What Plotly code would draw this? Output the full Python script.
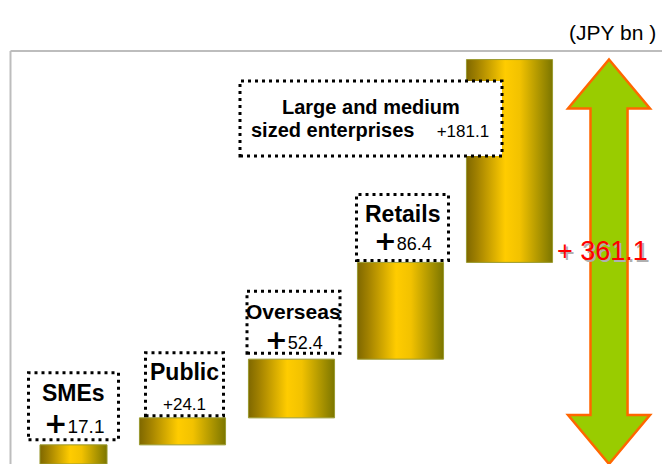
import plotly.graph_objects as go

# ---- data -------------------------------------------------------------
categories = ["SMEs", "Public", "Overseas", "Retails", "Large and medium"]
increments = [17.1, 24.1, 52.4, 86.4, 181.1]
value_labels = ["17.1", "24.1", "52.4", "86.4", "181.1"]
unit_label = "(JPY bn )"

total = round(sum(increments), 1)
total_label = f"+ {total}"
bases = []
run = 0.0
for v in increments:
    bases.append(run)
    run += v

# ---- geometry / style ---------------------------------------------------
W, H = 662, 464
X_PX0, X_STEP = 73.5, 109.0      # pixel of first bar centre, pixels per slot
Y_PX0, Y_SCALE = 464.0, 1.12     # pixel of value 0, pixels per JPY bn
bar_widths = [0.615, 0.79, 0.79, 0.79, 0.79]
ARROW_X = 4.913
ARROW_HEAD_HALF = 0.376
ARROW_SHAFT_HALF = 0.17
ARROW_HEAD_LEN = 43.75

FONT = "Liberation Sans, Arial, sans-serif"
GOLD = [[0.0, "#7F6800"], [0.12, "#A08000"], [0.45, "#FFCC00"],
        [0.62, "#F2C200"], [1.0, "#7C7600"]]

# label boxes: (x offset px, width px, gap above bar px, height px,
#               name offset px, value offset px, big plus, name size, value size)
box_style = [
    (0, 90, 5, 67, 47, 16, True, 23, 19),
    (2, 78, 2, 63, 44, 11, False, 23, 17),
    (2, 93, 6, 62, 42, 14, True, 21, 18),
    (2, 92, 2, 66, 46, 20, True, 23, 18),
]

fig = go.Figure()

# gradient-filled waterfall bars
for i, (v, b) in enumerate(zip(increments, bases)):
    w = bar_widths[i]
    x0, x1 = i - w / 2, i + w / 2
    fig.add_trace(go.Scatter(
        x=[x0, x1, x1, x0, x0],
        y=[b, b, b + v, b + v, b],
        mode="lines",
        fill="toself",
        fillgradient=dict(type="horizontal", colorscale=GOLD, start=x0, stop=x1),
        line=dict(color="#9A9A30", width=1),
        hoverinfo="skip",
        showlegend=False,
    ))

shapes = []
annotations = []

# frame lines
fy = 1 - 51 / H
fx = 10.5 / W
shapes.append(dict(type="line", xref="paper", yref="paper", x0=fx, x1=1, y0=fy, y1=fy,
                   line=dict(color="#BDBDBD", width=2), layer="below"))
shapes.append(dict(type="line", xref="paper", yref="paper", x0=fx, x1=fx, y0=0, y1=fy,
                   line=dict(color="#BDBDBD", width=2), layer="below"))

DOTS = dict(color="black", width=3, dash="3px,4px")


def plus_text(val, big, size):
    if big:
        return ('<span style="font-family:DejaVu Sans;font-size:%dpx;font-weight:bold">+</span>'
                '<span style="font-size:%dpx">%s</span>' % (size + 9, size, val))
    return "+" + val


for i, st in enumerate(box_style):
    dx, bw, gap, bh, name_off, val_off, big, nsize, vsize = st
    top = bases[i] + increments[i]
    shapes.append(dict(
        type="rect", xref="x", yref="y", xsizemode="pixel", ysizemode="pixel",
        xanchor=i, yanchor=top, x0=dx - bw / 2, x1=dx + bw / 2,
        y0=gap, y1=gap + bh, line=DOTS, fillcolor="white", layer="above"))
    annotations.append(dict(
        x=i, y=top, xref="x", yref="y", xshift=dx, yshift=gap + name_off,
        text=categories[i], showarrow=False, xanchor="center", yanchor="middle",
        font=dict(family=FONT, size=nsize, color="black", weight="bold")))
    annotations.append(dict(
        x=i, y=top, xref="x", yref="y", xshift=dx, yshift=gap + val_off,
        text=plus_text(value_labels[i], big, vsize), showarrow=False,
        xanchor="center", yanchor="middle",
        font=dict(family=FONT, size=vsize, color="black")))

# label for the largest segment sits to the left of its bar
i = 4
top = bases[i] + increments[i]
shapes.append(dict(
    type="rect", xref="x", yref="y", xsizemode="pixel", ysizemode="pixel",
    xanchor=i, yanchor=top, x0=-269.5, x1=-7.5, y0=-96.5, y1=-21.5,
    line=DOTS, fillcolor="white", layer="above"))
annotations.append(dict(
    x=i, y=top, xref="x", yref="y", xshift=-138.5, yshift=-47,
    text=categories[i], showarrow=False, xanchor="center", yanchor="middle",
    font=dict(family=FONT, size=20, color="black", weight="bold")))
annotations.append(dict(
    x=i, y=top, xref="x", yref="y", xshift=-140, yshift=-70,
    text='sized enterprises&nbsp;&nbsp;&nbsp; <span style="font-weight:normal;font-size:17px">+%s</span>'
         % value_labels[i],
    showarrow=False, xanchor="center", yanchor="middle",
    font=dict(family=FONT, size=20, color="black", weight="bold")))

# double-headed total arrow, spanning 0 .. total
a, hh, sh, hl = ARROW_X, ARROW_HEAD_HALF, ARROW_SHAFT_HALF, ARROW_HEAD_LEN
pts = [
    (a, total), (a + hh, total - hl), (a + sh, total - hl), (a + sh, hl),
    (a + hh, hl), (a, 0), (a - hh, hl), (a - sh, hl), (a - sh, total - hl),
    (a - hh, total - hl),
]
path = "M " + " L ".join("%.4f,%.4f" % p for p in pts) + " Z"
shapes.append(dict(type="path", xref="x", yref="y", path=path,
                   fillcolor="#99CC00", line=dict(color="#FF6600", width=2.5),
                   layer="above"))

# total label with a soft grey drop shadow
annotations.append(dict(
    x=ARROW_X, y=total / 2, xref="x", yref="y", xshift=-7, yshift=11,
    text=total_label, showarrow=False, xanchor="center", yanchor="middle",
    font=dict(family=FONT, size=27, color="#FF0000", shadow="2px 2px 0px #B0B0B0")))

# unit
annotations.append(dict(
    x=658 / W, y=1 - 32 / H, xref="paper", yref="paper", text=unit_label,
    showarrow=False, xanchor="right", yanchor="middle",
    font=dict(family=FONT, size=21, color="black")))

fig.update_layout(
    width=W, height=H,
    margin=dict(l=0, r=0, t=0, b=0, pad=0),
    paper_bgcolor="white", plot_bgcolor="white",
    xaxis=dict(range=[(0 - X_PX0) / X_STEP, (W - X_PX0) / X_STEP], visible=False,
               fixedrange=True),
    yaxis=dict(range=[(Y_PX0 - H) / Y_SCALE, Y_PX0 / Y_SCALE], visible=False,
               fixedrange=True),
    shapes=shapes,
    annotations=annotations,
    showlegend=False,
)

fig.write_html("out.html", config={"displayModeBar": False})
